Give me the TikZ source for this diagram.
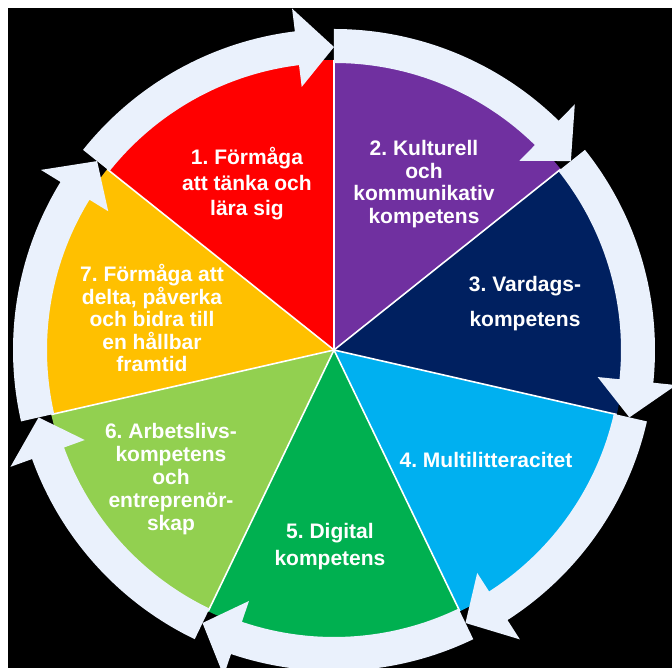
\documentclass[tikz,border=0pt]{standalone}
\usepackage{fontspec}
\setmainfont{Liberation Sans}
\usepackage{tikz}
\usetikzlibrary{positioning}
\frenchspacing
\definecolor{cRed}{RGB}{255,0,0}
\definecolor{cPurple}{RGB}{112,48,160}
\definecolor{cNavy}{RGB}{0,32,96}
\definecolor{cSky}{RGB}{0,176,240}
\definecolor{cGreen}{RGB}{0,176,80}
\definecolor{cLime}{RGB}{146,208,80}
\definecolor{cAmber}{RGB}{255,192,0}
\definecolor{cRing}{RGB}{234,241,252}
\tikzset{
  lbl/.style={text=white,align=center,inner sep=0pt,font=\bfseries\fontsize{21}{#1}\selectfont},
  sepline/.style={draw=white,line width=1.6pt}
}
\newcommand{\pieslice}[3]{\fill[#3] (0,0) -- (#1:290pt) arc[start angle=#1, end angle=#2, radius=290pt] -- cycle}
\newcommand{\ringarrow}[2]{\fill[cRing] (#1:321pt) arc[start angle=#1, end angle={#2+7}, radius=321pt] -- ({#2+7}:344pt) -- (#2:303pt) -- ({#2+7}:265pt) -- ({#2+7}:287pt) arc[start angle={#2+7}, end angle=#1, radius=287pt] -- cycle}

\begin{document}
\begin{tikzpicture}[x=1pt,y=1pt]
    \useasboundingbox (-334,-318) rectangle (338,350);
    \fill[white] (-334,-318) rectangle (338,350);
    \fill[black] (-326,-318) rectangle (338,342);
    % pie
    \pieslice{141.429}{90}{cRed};
    \pieslice{90}{38.571}{cPurple};
    \pieslice{38.571}{-12.857}{cNavy};
    \pieslice{-12.857}{-64.286}{cSky};
    \pieslice{-64.286}{-115.714}{cGreen};
    \pieslice{-115.714}{-167.143}{cLime};
    \pieslice{-167.143}{-218.571}{cAmber};
    \foreach \a in {90,38.571,-12.857,-64.286,-115.714,-167.143,141.429}
      \draw[sepline] (0,0) -- (\a:290pt);
    % ring
    \ringarrow{141.429}{90};
    \ringarrow{90}{38.571};
    \ringarrow{38.571}{-12.857};
    \ringarrow{-12.857}{-64.286};
    \ringarrow{-64.286}{-115.714};
    \ringarrow{-115.714}{-167.143};
    \ringarrow{-167.143}{-218.571};
    % labels
    \node[lbl=25.5] (t1) at (-87,166) {1. Förmåga\\att tänka och\\lära sig};
    \node[lbl=22.5] (t2) at (90,166) {2. Kulturell\\och\\kommunikativ\\kompetens};
    \node[lbl=35] (t3) at (191,46) {3. Vardags-\\kompetens};
    \node[lbl=22] (t4) at (152,-110) {4. Multilitteracitet};
    \node[lbl=27] (t5) at (-4,-197) {5. Digital\\kompetens};
    \node[lbl=23] (t6) at (-163,-129) {6. Arbetslivs-\\kompetens\\och\\entreprenör-\\skap};
    \node[lbl=22.5] (t7) at (-182,32) {7. Förmåga att\\delta, påverka\\och bidra till\\en hållbar\\framtid};
\end{tikzpicture}
\end{document}
